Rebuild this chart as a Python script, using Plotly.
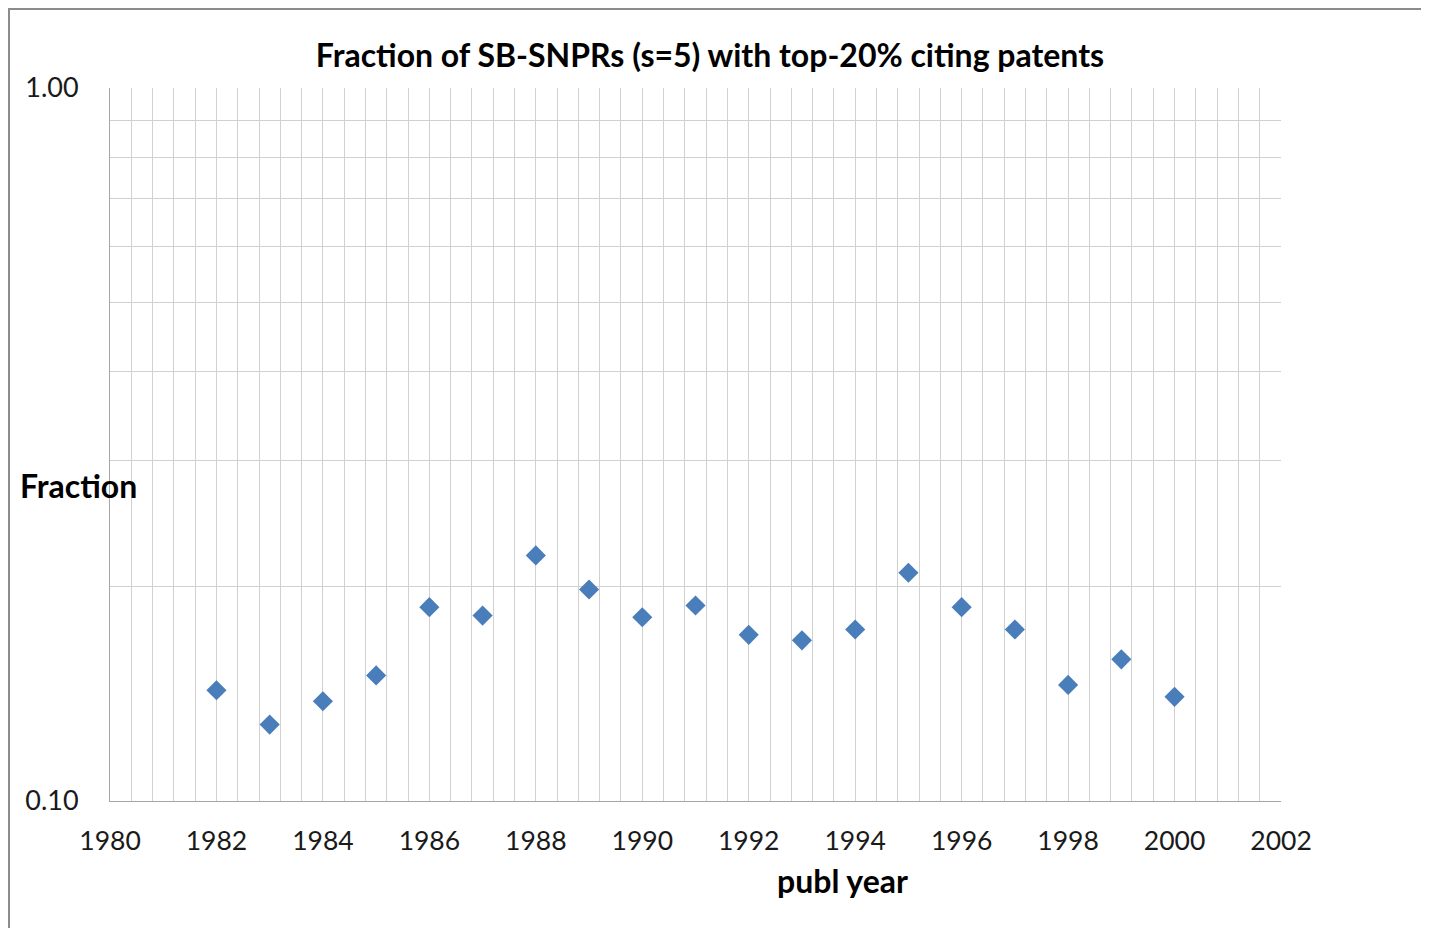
import plotly.graph_objects as go

years = [1982, 1983, 1984, 1985, 1986, 1987, 1988, 1989, 1990, 1991,
         1992, 1993, 1994, 1995, 1996, 1997, 1998, 1999, 2000]
fraction = [0.143, 0.128, 0.138, 0.150, 0.187, 0.182, 0.221, 0.198, 0.181, 0.188,
            0.171, 0.168, 0.174, 0.209, 0.187, 0.174, 0.1455, 0.158, 0.140]

x_grid = [round(1980 + 0.4 * k, 1) for k in range(56)]
x_text = [str(int(round(v))) if abs(v - round(v)) < 1e-6 and int(round(v)) % 2 == 0 else "" for v in x_grid]
y_grid = [0.1, 0.2, 0.3, 0.4, 0.5, 0.6, 0.7, 0.8, 0.9, 1.0]
y_text = ["0.10", "", "", "", "", "", "", "", "", "1.00"]

FONT = "Lato, Carlito, 'Open Sans', sans-serif"
OFF = 8  # page body margin
W, H = 1429 - OFF, 928 - OFF
PL, PR, PT, PB = 110, 1281, 88, 801  # plot area in page pixels
L, R, T, B = PL - OFF, W - (PR - OFF), PT - OFF, H - (PB - OFF)
pw, ph = PR - PL, PB - PT


def px(page_x):
    return (page_x - PL) / pw


def py(page_y):
    return (PB - page_y) / ph


fig = go.Figure()
fig.add_trace(go.Scatter(
    x=years, y=fraction, mode="markers",
    marker=dict(symbol="diamond", size=15.5, color="#4a7ebb"),
    showlegend=False,
))

fig.update_layout(
    width=W, height=H,
    margin=dict(l=L, r=R, t=T, b=B),
    paper_bgcolor="white", plot_bgcolor="white",
    font=dict(family=FONT, color="#1a1a1a"),
    title=dict(text="<b>Fraction of SB-SNPRs (s=5) with top-20% citing patents</b>",
               x=(710 - OFF) / W, xanchor="center", y=1 - (56 - OFF) / H, yanchor="middle",
               font=dict(size=32, family=FONT, color="black")),
    xaxis=dict(range=[1980, 2002], tickmode="array", tickvals=x_grid, ticktext=x_text,
               showgrid=True, gridcolor="#d0d0d0", gridwidth=1, zeroline=False,
               showline=True, linecolor="#a6a6a6", ticks="", ticklabelstandoff=16,
               tickfont=dict(size=26.5, family=FONT, color="#1a1a1a")),
    yaxis=dict(type="log", range=[-1, 0], tickmode="array", tickvals=y_grid, ticktext=y_text,
               showgrid=True, gridcolor="#d0d0d0", gridwidth=1, zeroline=False,
               showline=True, linecolor="#a6a6a6", ticks="", ticklabelstandoff=25,
               tickfont=dict(size=27, family=FONT, color="#1a1a1a")),
    annotations=[
        dict(text="<b>Fraction</b>", x=px(78), y=py(486), xref="paper", yref="paper",
             xanchor="center", yanchor="middle", showarrow=False,
             font=dict(size=32, family=FONT, color="black")),
        dict(text="<b>publ year</b>", x=px(843), y=py(880), xref="paper", yref="paper",
             xanchor="center", yanchor="middle", showarrow=False,
             font=dict(size=32, family=FONT, color="black")),
    ],
    shapes=[dict(type="rect", xref="paper", yref="paper",
                 x0=px(OFF + 1), x1=px(1427),
                 y0=py(940), y1=py(OFF + 1),
                 line=dict(color="#8c8c8c", width=2), fillcolor="rgba(0,0,0,0)", layer="below")],
)

fig.write_html("out.html")
